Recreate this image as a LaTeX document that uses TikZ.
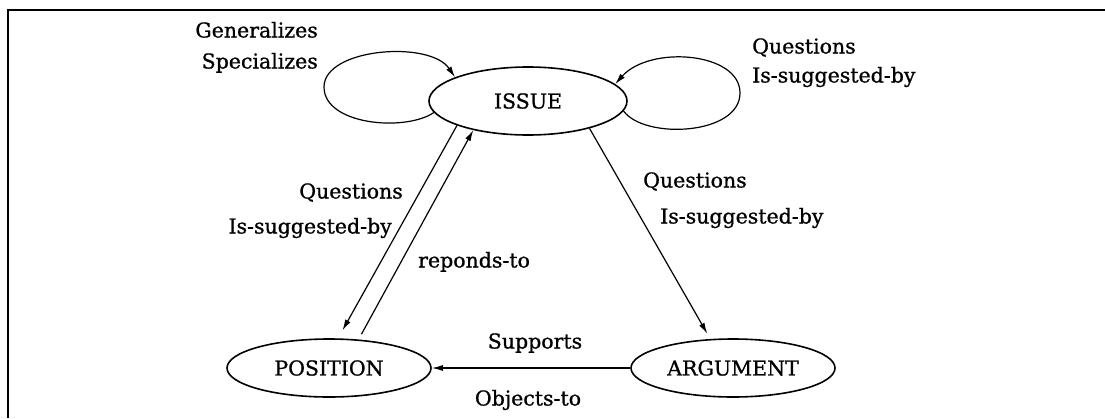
\documentclass[tikz,border=0pt]{standalone}
\usepackage{fontspec}
\setmainfont{DejaVu Serif}[RawFeature={embolden=0.9}]
\usetikzlibrary{positioning,shapes.geometric,arrows.meta}

\begin{document}
\begin{tikzpicture}[x=1pt, y=-1pt,
    font=\fontsize{20.5}{24}\selectfont,
    state/.style={draw, ellipse, line width=1.6pt, inner sep=0pt},
    lbl/.style={inner sep=0pt, text height=15pt, text depth=4pt},
    link/.style={line width=1.2pt, -{Latex[length=11pt, width=6pt]}}]
    \useasboundingbox (0,0) rectangle (1105,418);
    % frame
    \draw[line width=2.2pt] (1105,10) -- (8,10) -- (8,418);

    \node (issue) [state, minimum width=198pt, minimum height=68pt] at (528,101) {ISSUE};
    \node (position) [state, minimum width=204pt, minimum height=58pt] at (329,368) {POSITION};
    \node (argument) [state, minimum width=204pt, minimum height=58pt] at (733,368) {ARGUMENT};

    % loops on ISSUE
    \coordinate (leftloop) at (324,87);
    \coordinate (rightloop) at (740,93);
    \draw [link] (issue.187) .. controls (405,132) and (324,125) .. (leftloop)
        .. controls (324,48) and (430,40) .. (issue.162);
    \draw [link] (issue.354) .. controls (645,140) and (740,135) .. (rightloop)
        .. controls (740,52) and (650,45) .. (issue.11);

    \draw [link, shorten >=9pt] (issue.199) -- (position.73);
    \draw [link, shorten <=6pt] (position.44) -- (issue.208);
    \draw [link, shorten >=6pt] (issue.336) -- (argument.128);
    \draw [link] (argument.west) -- (position.east);

    % labels
    \node (gen) [lbl, anchor=east] at (318,32) {Generalizes};
    \node (spec) [lbl, anchor=east] at (318,63) {Specializes};
    \node (q1) [lbl, anchor=west] at (752,48) {Questions};
    \node (s1) [lbl, anchor=west] at (752,77) {Is-suggested-by};
    \node (q2) [lbl, anchor=east] at (403,193) {Questions};
    \node (s2) [lbl, anchor=east] at (392,228) {Is-suggested-by};
    \node (resp) [lbl, anchor=west] at (418,262) {reponds-to};
    \node (q3) [lbl, anchor=west] at (643,182) {Questions};
    \node (s3) [lbl, anchor=west] at (660,218) {Is-suggested-by};
    \node (sup) [lbl] at (535,343) {Supports};
    \node (obj) [lbl] at (528,400) {Objects-to};
\end{tikzpicture}
\end{document}
